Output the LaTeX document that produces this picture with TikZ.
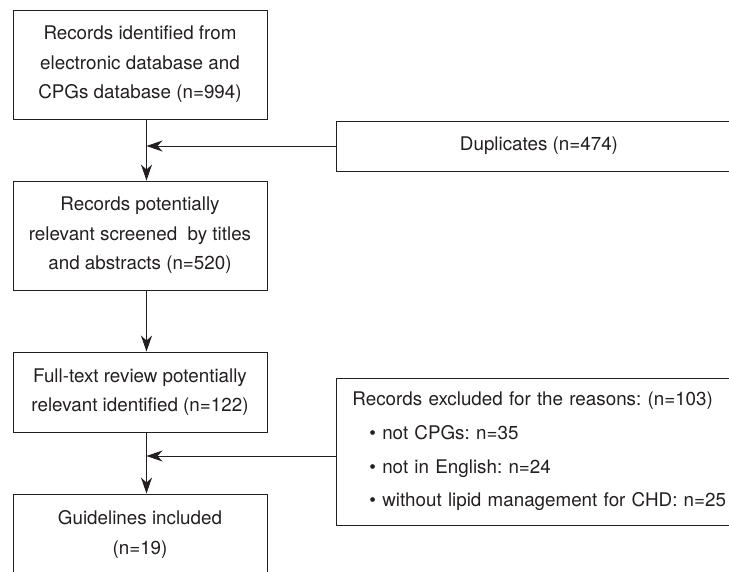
\documentclass[tikz,border=0pt]{standalone}
\usepackage{fontspec}
\setmainfont{TeX Gyre Heros}
\usepackage{xcolor}
\usetikzlibrary{arrows.meta}
\frenchspacing

\definecolor{inkgray}{HTML}{231F20}

\begin{document}
\begin{tikzpicture}[x=1pt, y=-1pt,
    flowbox/.style={draw=inkgray, line width=0.9pt, text=inkgray, align=center,
        minimum width=254pt, inner sep=0pt, font=\fontsize{18.8}{29.5}\selectfont},
    sidebox/.style={draw=inkgray, line width=0.9pt, text=inkgray, inner ysep=0pt,
        font=\fontsize{18.8}{33.7}\selectfont},
    flowarrow/.style={draw=inkgray, line width=0.9pt,
        -{Stealth[length=16pt, width=11pt, inset=5pt]}}]
    % Frame
    \clip (0,0) rectangle (729,571);

    % Main column
    \node[flowbox, minimum height=109pt] (ident) at (140,64.5)
        {Records identified from\\electronic database and\\CPGs database (n=994)};
    \node[flowbox, minimum height=109pt] (screen) at (140,235.5)
        {Records potentially\\relevant screened\ \ by titles\\and abstracts (n=520)};
    \node[flowbox, minimum height=80pt] (fulltext) at (140,392)
        {Full-text review potentially\\relevant identified (n=122)};
    \node[flowbox, minimum height=81pt] (incl) at (140,534.5)
        {Guidelines included\\(n=19)};

    % Side boxes (cut at the right edge)
    \node[sidebox, minimum width=406pt, minimum height=50pt] (dup) at (539,146)
        {Duplicates (n=474)};
    \node[sidebox, anchor=west, minimum height=147pt, text width=374pt,
        inner xsep=16pt, align=left] (excl) at (336,451.5)
        {Records excluded for the reasons: (n=103)\\
         \hspace*{17pt}\textbullet\ not CPGs: n=35\\
         \hspace*{17pt}\textbullet\ not in English: n=24\\
         \hspace*{17pt}\textbullet\ without lipid management for CHD: n=25};

    % Joins on the spine
    \coordinate (join1) at (146.5,146);
    \coordinate (join2) at (146.5,456);

    % Arrows
    \draw[flowarrow] (ident.south -| join1) -- (screen.north -| join1);
    \draw[flowarrow] (screen.south -| join1) -- (fulltext.north -| join1);
    \draw[flowarrow] (fulltext.south -| join2) -- (incl.north -| join2);
    \draw[flowarrow] (dup.west) -- (join1);
    \draw[flowarrow] (join2 -| excl.west) -- (join2);
\end{tikzpicture}
\end{document}
